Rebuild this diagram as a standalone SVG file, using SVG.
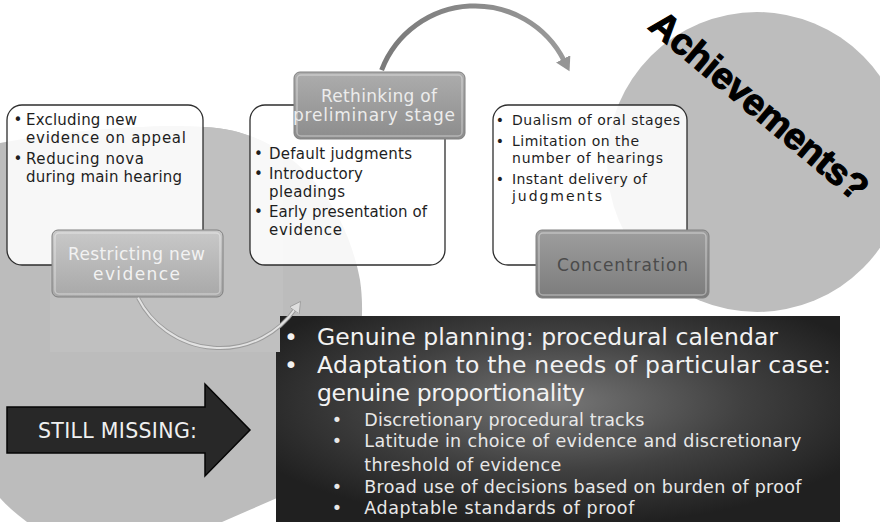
<svg xmlns="http://www.w3.org/2000/svg" width="880" height="522" viewBox="0 0 880 522">
<defs>
<style>
.bx{fill:#ffffff;fill-opacity:0.88;stroke:#2e2e2e;stroke-width:1.3}
.bt{font-family:"DejaVu Sans",sans-serif;font-size:15px;fill:#1e1e1e}
.bt3{font-size:14px}
.lb{stroke:#808080;stroke-width:1}
.hl{fill:none;stroke:#ffffff;stroke-opacity:0.35;stroke-width:1.5}
.lt{font-family:"DejaVu Sans",sans-serif;font-size:17px;text-anchor:middle}
.dk1{font-family:"DejaVu Sans",sans-serif;font-size:23.5px;fill:#f2f2f2}
.dk2{font-family:"DejaVu Sans",sans-serif;font-size:17.5px;fill:#e8e8e8}
.bul{text-anchor:middle}
</style>
<linearGradient id="g1" x1="0" y1="0" x2="0" y2="1"><stop offset="0" stop-color="#c9c9c9"/><stop offset="1" stop-color="#a8a8a8"/></linearGradient>
<linearGradient id="g2" x1="0" y1="0" x2="0" y2="1"><stop offset="0" stop-color="#adadad"/><stop offset="1" stop-color="#8c8c8c"/></linearGradient>
<linearGradient id="g3" x1="0" y1="0" x2="0" y2="1"><stop offset="0" stop-color="#9e9e9e"/><stop offset="1" stop-color="#7c7c7c"/></linearGradient>
<radialGradient id="dg" cx="0.5" cy="0.42" r="0.6"><stop offset="0" stop-color="#767676"/><stop offset="0.55" stop-color="#404040"/><stop offset="1" stop-color="#202020"/></radialGradient>
<linearGradient id="ag" x1="0" y1="0" x2="1" y2="0"><stop offset="0" stop-color="#7a7a7a"/><stop offset="1" stop-color="#9a9a9a"/></linearGradient>
<marker id="ahTop" markerUnits="userSpaceOnUse" markerWidth="16" markerHeight="18" refX="2" refY="8" orient="auto"><path d="M0,0 L14,8 L0,16 Z" fill="#959595"/></marker>
<marker id="ahBot" markerUnits="userSpaceOnUse" markerWidth="14" markerHeight="14" refX="2" refY="6" orient="auto"><path d="M0,0 L11,6 L0,12 Z" fill="#dedede" stroke="#9a9a9a" stroke-width="0.8"/></marker>
<clipPath id="lc"><path d="M0,143 C60,132 140,124 205,127 C290,131 345,200 360,280 C372,360 330,460 277,498 L222,522 L27,522 C15,513 6,505 0,498 Z"/></clipPath>
</defs>
<rect x="0" y="0" width="880" height="522" fill="#ffffff"/>
<g id="background">
<path d="M0,143 C60,132 140,124 205,127 C290,131 345,200 360,280 C372,360 330,460 277,498 L222,522 L27,522 C15,513 6,505 0,498 Z" fill="#bcbcbc"/>
<rect x="50" y="100" width="233" height="252" fill="#c0c0c0" clip-path="url(#lc)"/>
<circle cx="757" cy="162" r="150" fill="#bdbdbd"/>
</g>
<g id="missing-box">
<rect x="276" y="316" width="564" height="206" fill="url(#dg)"/>
<rect x="276" y="316" width="4" height="36" fill="#c0c0c0"/>
<text class="dk1 bul" x="291" y="345">•</text>
<text class="dk1" x="317" y="345" textLength="461">Genuine planning: procedural calendar</text>
<text class="dk1 bul" x="291" y="372.7">•</text>
<text class="dk1" x="317" y="372.7" textLength="514">Adaptation to the needs of particular case:</text>
<text class="dk1" x="317" y="400.7" textLength="268">genuine proportionality</text>
<text class="dk2 bul" x="337" y="426">•</text>
<text class="dk2" x="364.3" y="426" textLength="280">Discretionary procedural tracks</text>
<text class="dk2 bul" x="337" y="447.3">•</text>
<text class="dk2" x="364.3" y="447.3" textLength="437">Latitude in choice of evidence and discretionary</text>
<text class="dk2" x="364.3" y="470.7" textLength="197">threshold of evidence</text>
<text class="dk2 bul" x="337" y="492.7">•</text>
<text class="dk2" x="364.3" y="492.7" textLength="437">Broad use of decisions based on burden of proof</text>
<text class="dk2 bul" x="337" y="514">•</text>
<text class="dk2" x="364.3" y="514" textLength="270">Adaptable standards of proof</text>
</g>
<g id="still-missing">
<path d="M7,407 L205,407 L205,384 L250,430 L205,476 L205,453 L7,453 Z" fill="#282828" stroke="#050505" stroke-width="1.5"/>
<text x="38" y="438" font-family="DejaVu Sans, sans-serif" font-size="20.5" fill="#f0f0f0" textLength="159">STILL MISSING:</text>
</g>
<g id="node-restricting">
<rect class="bx" x="7" y="105" width="196" height="160" rx="15"/>
<text class="bt bul" x="18" y="125">•</text>
<text class="bt" x="26" y="125" textLength="111">Excluding new</text>
<text class="bt" x="26" y="143" textLength="160">evidence on appeal</text>
<text class="bt bul" x="18" y="164">•</text>
<text class="bt" x="26" y="164" textLength="118">Reducing nova</text>
<text class="bt" x="26" y="181.5" textLength="156">during main hearing</text>
<rect class="lb" x="52" y="230" width="171" height="67" rx="6" fill="url(#g1)"/>
<rect class="hl" x="55" y="233" width="165" height="61" rx="4"/>
<text class="lt" x="136.5" y="260" fill="#f2f2f2" textLength="137">Restricting new</text>
<text class="lt" x="136.5" y="280" fill="#f2f2f2" textLength="87">evidence</text>
</g>
<g id="node-rethinking">
<rect class="bx" x="250" y="105" width="195" height="160" rx="15"/>
<text class="bt bul" x="258.5" y="158.5">•</text>
<text class="bt" x="269" y="158.5" textLength="143">Default judgments</text>
<text class="bt bul" x="258.5" y="178.5">•</text>
<text class="bt" x="269" y="178.5" textLength="94">Introductory</text>
<text class="bt" x="269" y="196.7" textLength="76">pleadings</text>
<text class="bt bul" x="258.5" y="216.7">•</text>
<text class="bt" x="269" y="216.7" textLength="158">Early presentation of</text>
<text class="bt" x="269" y="235" textLength="73">evidence</text>
<rect class="lb" x="294" y="72" width="171" height="67" rx="6" fill="url(#g2)"/>
<rect class="hl" x="297" y="75" width="165" height="61" rx="4"/>
<text class="lt" x="379" y="101.7" fill="#ececec" textLength="116">Rethinking of</text>
<text class="lt" x="374" y="120.5" fill="#ececec" textLength="162">preliminary stage</text>
</g>
<g id="node-concentration">
<rect class="bx" x="493" y="105" width="194" height="160" rx="15"/>
<text class="bt bt3 bul" x="500" y="125">•</text>
<text class="bt bt3" x="512" y="125" textLength="168">Dualism of oral stages</text>
<text class="bt bt3 bul" x="500" y="145.7">•</text>
<text class="bt bt3" x="512" y="145.7" textLength="127">Limitation on the</text>
<text class="bt bt3" x="512" y="163.3" textLength="151">number of hearings</text>
<text class="bt bt3 bul" x="500" y="184.3">•</text>
<text class="bt bt3" x="512" y="184.3" textLength="135">Instant delivery of</text>
<text class="bt bt3" x="512" y="200.5" textLength="90">judgments</text>
<rect class="lb" x="536" y="230" width="173" height="68" rx="6" fill="url(#g3)"/>
<rect class="hl" x="539" y="233" width="167" height="62" rx="4"/>
<text class="lt" x="622.5" y="270.7" fill="#4b4b4b" font-size="19" textLength="131">Concentration</text>
</g>
<g id="connectors">
<path d="M381.6,70.2 A100,100 0 0 1 564.1,60.6" fill="none" stroke="url(#ag)" stroke-width="5" marker-end="url(#ahTop)"/>
<path d="M138,297.8 A92,92 0 0 0 295.4,308.8" fill="none" stroke="#9c9c9c" stroke-width="4"/>
<path d="M138,297.8 A92,92 0 0 0 295.4,308.8" fill="none" stroke="#e2e2e2" stroke-width="2" marker-end="url(#ahBot)"/>
</g>
<g id="achievements">
<text x="0" y="0" transform="translate(647,28) rotate(40)" font-family="Liberation Sans, Arial, sans-serif" font-weight="bold" font-size="37" fill="#000000" stroke="#000000" stroke-width="1.2" textLength="272">Achievements?</text>
</g>
</svg>
